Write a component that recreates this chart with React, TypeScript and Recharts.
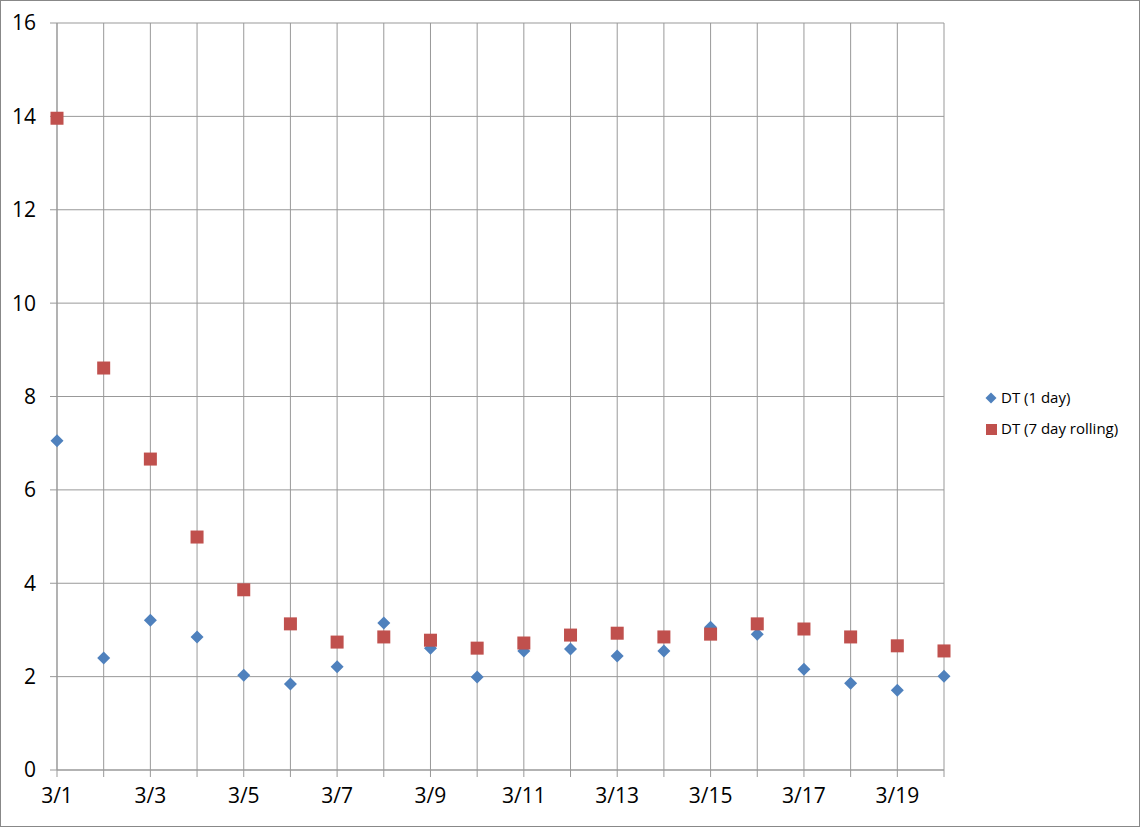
import { LineChart, Line, XAxis, YAxis, CartesianGrid } from "recharts";

const dates = [
  "3/1", "3/2", "3/3", "3/4", "3/5", "3/6", "3/7", "3/8", "3/9", "3/10",
  "3/11", "3/12", "3/13", "3/14", "3/15", "3/16", "3/17", "3/18", "3/19", "3/20",
];
const oneDay = [
  7.05, 2.4, 3.21, 2.85, 2.03, 1.84, 2.21, 3.15, 2.61, 1.99,
  2.55, 2.59, 2.44, 2.55, 3.06, 2.91, 2.16, 1.86, 1.71, 2.01,
];
const sevenDay = [
  13.96, 8.61, 6.66, 4.99, 3.86, 3.13, 2.74, 2.85, 2.78, 2.61,
  2.72, 2.89, 2.93, 2.85, 2.91, 3.13, 3.02, 2.85, 2.66, 2.55,
];
const yTicks = [0, 2, 4, 6, 8, 10, 12, 14, 16];
const seriesNames = ["DT (1 day)", "DT (7 day rolling)"];

const BLUE = "#4F81BD";
const RED = "#C0504D";
const GRID = "#999999";
const FONT = "'Open Sans', 'Liberation Sans', sans-serif";

const data = dates.map((d, i) => ({ date: d, one: oneDay[i], seven: sevenDay[i] }));

const Diamond = (props: any) => {
  const { cx, cy, index } = props;
  if (cx == null || cy == null) return <g key={"d" + index} />;
  const r = 6.5;
  return (
    <path
      key={"d" + index}
      d={`M${cx},${cy - r}L${cx + r},${cy}L${cx},${cy + r}L${cx - r},${cy}Z`}
      fill={BLUE}
    />
  );
};

const Square = (props: any) => {
  const { cx, cy, index } = props;
  if (cx == null || cy == null) return <g key={"s" + index} />;
  const h = 6.5;
  return <rect key={"s" + index} x={cx - h} y={cy - h} width={h * 2} height={h * 2} fill={RED} />;
};

// legend drawn outside the chart so it does not eat plot space
const LegendBox = () => (
  <div
    style={{
      position: "absolute",
      left: 984,
      top: 381,
      fontFamily: FONT,
      fontSize: 15,
      color: "#000",
      lineHeight: "31px",
    }}
  >
    <div style={{ display: "flex", alignItems: "center" }}>
      <svg width={13} height={12} style={{ marginRight: 3 }}>
        <path d="M6,0.5L11.5,6L6,11.5L0.5,6Z" fill={BLUE} />
      </svg>
      {seriesNames[0]}
    </div>
    <div style={{ display: "flex", alignItems: "center" }}>
      <svg width={13} height={12} style={{ marginRight: 3 }}>
        <rect x={1} y={1} width={11} height={11} fill={RED} />
      </svg>
      {seriesNames[1]}
    </div>
  </div>
);

export default function App() {
  return (
    <div
      style={{
        position: "absolute",
        left: 0,
        top: 0,
        width: 1140,
        height: 827,
        background: "#fff",
        border: "1px solid #888",
        boxSizing: "border-box",
      }}
    >
      <LineChart
        width={1138}
        height={825}
        data={data}
        margin={{ top: 22, right: 195, left: 0, bottom: 0 }}
      >
        <CartesianGrid stroke={GRID} strokeWidth={1} />
        <XAxis
          dataKey="date"
          interval={0}
          height={56}
          stroke={GRID}
          tickSize={7}
          tickMargin={11}
          fontSize={21}
          tick={{ fill: "#000", fontSize: 21, fontFamily: FONT }}
          tickFormatter={(v: string, i: number) => (i % 2 === 0 ? v : "")}
        />
        <YAxis
          domain={[0, 16]}
          ticks={yTicks}
          width={56}
          stroke={GRID}
          tickSize={7}
          tickMargin={14}
          fontSize={21}
          tick={{ fill: "#000", fontSize: 21, fontFamily: FONT }}
        />
        <Line
          dataKey="one"
          name={seriesNames[0]}
          stroke="none"
          dot={Diamond}
          activeDot={false}
          isAnimationActive={false}
        />
        <Line
          dataKey="seven"
          name={seriesNames[1]}
          stroke="none"
          dot={Square}
          activeDot={false}
          isAnimationActive={false}
        />
      </LineChart>
      <LegendBox />
    </div>
  );
}
